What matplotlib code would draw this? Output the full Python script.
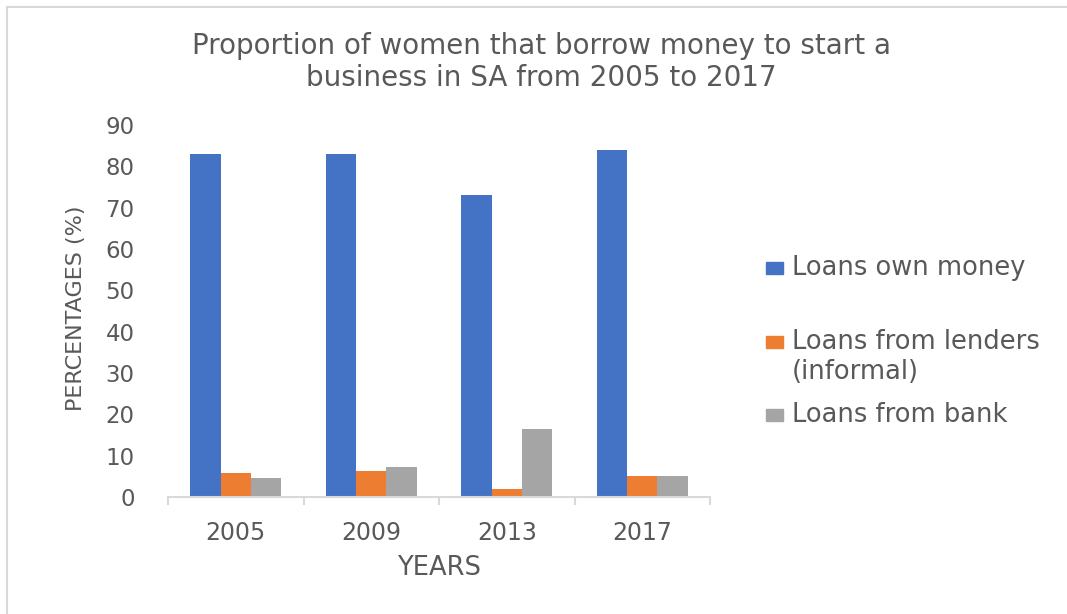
import numpy as np
import matplotlib.pyplot as plt
from matplotlib.lines import Line2D
from matplotlib.patches import Rectangle

# survey years and the three loan sources (%)
years = ['2005', '2009', '2013', '2017']
own_money = [83, 83, 73, 84]
informal_lenders = [5.8, 6.3, 1.9, 5.0]
bank = [4.6, 7.2, 16.5, 5.2]

series_names = ['Loans own money', 'Loans from lenders\n(informal)', 'Loans from bank']
colors = ['#4472C4', '#ED7D31', '#A5A5A5']
txt = '#595959'
grid_c = '#D9D9D9'

plt.rcParams['font.family'] = ['DejaVu Sans']

W, H = 1067, 614
fig = plt.figure(figsize=(W / 100, H / 100), dpi=100)
ax = fig.add_axes([168 / W, (H - 497) / H, (710 - 168) / W, (497 - 125) / H])

x = np.arange(len(years))
bw = 0.224
for i, (vals, c) in enumerate(zip([own_money, informal_lenders, bank], colors)):
    ax.bar(x + (i - 1) * bw, vals, width=bw, color=c, zorder=2)

ax.set_xlim(-0.5, len(years) - 0.5)
ax.set_ylim(0, 90)
ax.set_yticks(range(0, 91, 10))
ax.set_xticks(x)
ax.set_xticklabels(years)
ax.set_xticks(np.arange(-0.5, len(years)), minor=True)

for s in ['top', 'right', 'left']:
    ax.spines[s].set_visible(False)
ax.spines['bottom'].set_color(grid_c)
ax.spines['bottom'].set_linewidth(1.5)

ax.tick_params(axis='y', length=0, pad=24, labelsize=16.5, labelcolor=txt)
ax.tick_params(axis='x', which='major', length=0, pad=17, labelsize=17, labelcolor=txt)
ax.tick_params(axis='x', which='minor', length=6, width=1.5, color=grid_c)

# title and axis titles
fig.text(541 / W, 1 - 62 / H, 'Proportion of women that borrow money to start a\nbusiness in SA from 2005 to 2017',
         ha='center', va='center', fontsize=20, color=txt, linespacing=1.2)
fig.text(439 / W, 1 - 568 / H, 'YEARS', ha='center', va='center', fontsize=18.5, color=txt)
fig.text(76 / W, 1 - 308 / H, 'PERCENTAGES (%)', ha='center', va='center', rotation=90,
         fontsize=16, color=txt)

# legend on the right
key_rows = [(268, [series_names[0]]), (342, series_names[1].split('\n')), (415, [series_names[2]])]
for (yc, lines), c in zip(key_rows, colors):
    fig.patches.append(Rectangle((766 / W, 1 - (yc + 6) / H), 17 / W, 12 / H,
                                 transform=fig.transFigure, color=c))
    for k, line in enumerate(lines):
        fig.text(792 / W, 1 - (yc + 30 * k) / H, line, ha='left', va='center', fontsize=18.5, color=txt)

# chart frame
fig.add_artist(Line2D([7 / W, 1], [1 - 7 / H, 1 - 7 / H], color=grid_c, lw=1.5, transform=fig.transFigure))
fig.add_artist(Line2D([7 / W, 7 / W], [0, 1 - 7 / H], color=grid_c, lw=1.5, transform=fig.transFigure))

fig.savefig('out.png', dpi=100, facecolor='white')
